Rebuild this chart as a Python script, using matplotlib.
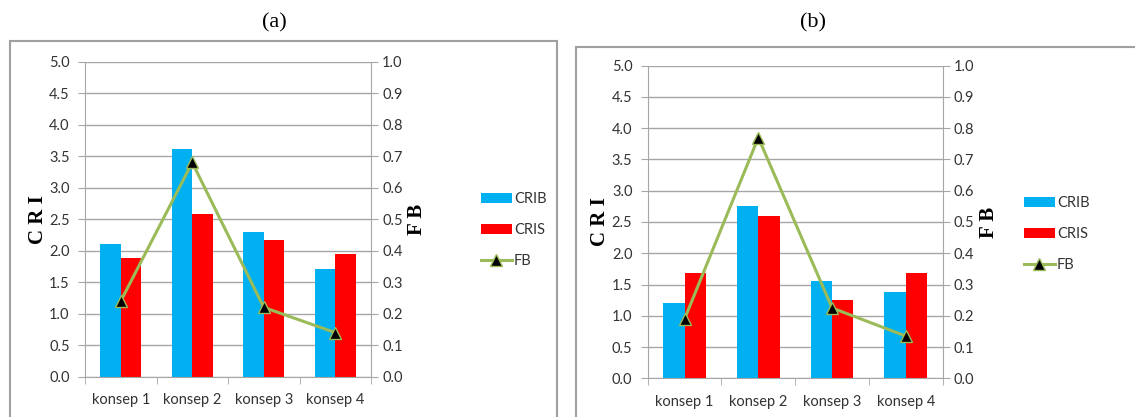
import matplotlib.pyplot as plt
from matplotlib.patches import Rectangle
import numpy as np

categories = ['konsep 1', 'konsep 2', 'konsep 3', 'konsep 4']
crib_a = [2.11, 3.61, 2.29, 1.71]
cris_a = [1.89, 2.58, 2.17, 1.94]
fb_a = [0.24, 0.68, 0.22, 0.14]
crib_b = [1.20, 2.76, 1.55, 1.38]
cris_b = [1.69, 2.60, 1.26, 1.69]
fb_b = [0.19, 0.77, 0.225, 0.135]
left_ticks = [0.0, 0.5, 1.0, 1.5, 2.0, 2.5, 3.0, 3.5, 4.0, 4.5, 5.0]
right_ticks = [0.0, 0.1, 0.2, 0.3, 0.4, 0.5, 0.6, 0.7, 0.8, 0.9, 1.0]

W, H = 1135, 417
fig = plt.figure(figsize=(W / 100, H / 100), dpi=100)

tick_font = ['Lato', 'DejaVu Sans']
serif = ['Liberation Serif', 'DejaVu Serif']
tick_col = '#333333'
grid_col = '#a6a6a6'


def px(x0, y0, x1, y1):
    # pixel box -> figure fraction [left, bottom, width, height]
    return [x0 / W, 1 - y1 / H, (x1 - x0) / W, (y1 - y0) / H]


def panel(rect, box, title_xy, title, crib, cris, fb, leg_xy):
    # outer frame
    fig.patches.append(Rectangle((box[0] / W, -0.1), (box[1] - box[0]) / W,
                                 1 - box[2] / H + 0.1, transform=fig.transFigure,
                                 fill=False, edgecolor='#a0a0a0', lw=1.5))
    fig.text(title_xy[0] / W, 1 - title_xy[1] / H, title, family=serif,
             fontsize=16, ha='center', va='center')

    ax = fig.add_axes(px(*rect))
    x = np.arange(len(categories))
    w = 0.29
    ax.bar(x - w / 2, crib, w, color='#00b0f0', zorder=2, label='CRIB')
    ax.bar(x + w / 2, cris, w, color='#ff0000', zorder=2, label='CRIS')
    ax.set_xlim(-0.5, 3.5)
    ax.set_ylim(0, 5)
    ax.set_yticks(left_ticks)
    ax.set_yticklabels([f'{v:.1f}' for v in left_ticks], family=tick_font,
                       fontsize=10.5, color=tick_col)
    ax.set_xticks(x)
    ax.set_xticklabels(categories, family=tick_font, fontsize=10.5, color=tick_col)
    ax.set_xticks(np.arange(-0.5, 4, 1), minor=True)
    ax.tick_params(axis='x', which='major', length=0, pad=12)
    ax.tick_params(axis='x', which='minor', length=5, color=grid_col)
    ax.tick_params(axis='y', length=5, color=grid_col, pad=6)
    ax.grid(axis='y', color=grid_col, lw=1, zorder=0)
    ax.set_axisbelow(True)
    for s in ['left', 'bottom']:
        ax.spines[s].set_color(grid_col)
    ax.spines['top'].set_visible(False)
    ax.spines['right'].set_visible(False)
    ax.set_ylabel('C R I', family=serif, fontweight='bold', fontsize=15, labelpad=1)

    ax2 = ax.twinx()
    ax2.plot(x, fb, color='#9bbb59', lw=2.2, marker='^', markersize=8,
             markerfacecolor='black', markeredgecolor='#9bbb59', label='FB', zorder=3)
    ax2.set_ylim(0, 1)
    ax2.set_yticks(right_ticks)
    ax2.set_yticklabels([f'{v:.1f}' for v in right_ticks], family=tick_font,
                        fontsize=10.5, color=tick_col)
    ax2.tick_params(axis='y', length=5, color=grid_col, pad=3)
    ax2.spines['right'].set_color(grid_col)
    for s in ['left', 'top', 'bottom']:
        ax2.spines[s].set_visible(False)
    ax2.set_ylabel('F B', family=serif, fontweight='bold', fontsize=15,
                   rotation=90, labelpad=3)

    h1, l1 = ax.get_legend_handles_labels()
    h2, l2 = ax2.get_legend_handles_labels()
    leg = fig.legend(h1 + h2, l1 + l2, loc='center left',
                     bbox_to_anchor=(leg_xy[0] / W, 1 - leg_xy[1] / H),
                     frameon=False, prop={'family': tick_font, 'size': 10.5},
                     handlelength=2.1, handleheight=0.7, labelspacing=1.15,
                     handletextpad=0.15, borderpad=0, borderaxespad=0)
    for t in leg.get_texts():
        t.set_color(tick_col)


panel((85, 61.7, 371, 376.7), (10, 557, 41), (274, 23), '(a)',
      crib_a, cris_a, fb_a, (481, 230))
panel((647.7, 65.7, 942.7, 378.3), (575.7, 1140, 46.7), (813, 23), '(b)',
      crib_b, cris_b, fb_b, (1024, 234))

fig.savefig('out.png', dpi=100)
